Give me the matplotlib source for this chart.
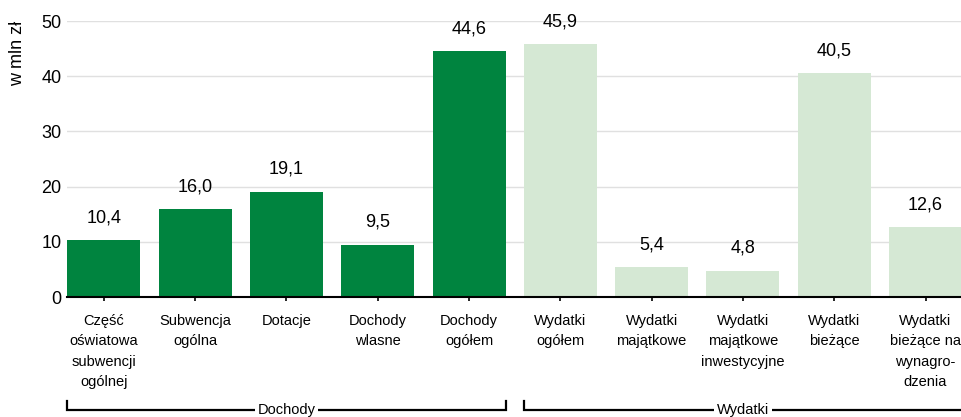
import matplotlib
matplotlib.use("Agg")
import matplotlib.pyplot as plt
import matplotlib.transforms as mtransforms

plt.rcParams['font.family'] = ['Liberation Sans', 'DejaVu Sans']

categories = ["Część\noświatowa\nsubwencji\nogólnej", "Subwencja\nogólna", "Dotacje",
              "Dochody\nwlasne", "Dochody\nogółem", "Wydatki\nogółem", "Wydatki\nmajątkowe",
              "Wydatki\nmajątkowe\ninwestycyjne", "Wydatki\nbieżące",
              "Wydatki\nbieżące na\nwynagro-\ndzenia"]
values = [10.4, 16.0, 19.1, 9.5, 44.6, 45.9, 5.4, 4.8, 40.5, 12.6]
groups = ["Dochody"] * 5 + ["Wydatki"] * 5
group_names = ["Dochody", "Wydatki"]
yticks = [0, 10, 20, 30, 40, 50]

colors = {"Dochody": "#00843f", "Wydatki": "#d5e8d4"}

W, H = 961, 417
fig = plt.figure(figsize=(W / 100, H / 100), dpi=100)
left_px, right_px = 67.3, 961.0
ax = fig.add_axes([left_px / W, 1 - 297 / H, (right_px - left_px) / W, (297 - 21) / H])

x = list(range(len(values)))
ax.bar(x, values, width=0.8, color=[colors[g] for g in groups], zorder=2)
for xi, v in zip(x, values):
    ax.text(xi, v + 4.0, f"{v:.1f}".replace(".", ","), ha="center", va="center",
            fontsize=13, color="black")

ax.set_xlim(-0.4, -0.4 + (right_px - left_px) / 91.3)
ax.set_ylim(0, 50)
ax.set_yticks(yticks)
ax.set_yticklabels([str(t) for t in yticks], fontsize=13)
ax.yaxis.grid(True, color="#e0e0e0", linewidth=1, zorder=0)
ax.set_axisbelow(True)
ax.tick_params(axis="y", length=0, pad=4)
ax.set_xticks(x)
ax.set_xticklabels(categories, fontsize=10.5, linespacing=1.6, va="top")
ax.tick_params(axis="x", length=3, width=1.2, color="black", pad=9)
for s in ["top", "right", "left"]:
    ax.spines[s].set_visible(False)
ax.spines["bottom"].set_linewidth(1.5)

fig.text(18 / W, 1 - 21 / H, "w mln zł", rotation=90, ha="center", va="top", fontsize=13)

trans = mtransforms.blended_transform_factory(ax.transData, fig.transFigure)
y_line = 1 - 410 / H
y_top = 1 - 401 / H
for gname in group_names:
    idx = [i for i, g in enumerate(groups) if g == gname]
    x0, x1 = idx[0] - 0.4, idx[-1] + 0.4
    ax.plot([x0, x0, x1, x1], [y_top, y_line, y_line, y_top], color="black",
            linewidth=1.6, transform=trans, clip_on=False, solid_joinstyle="miter")
    ax.text((x0 + x1) / 2, y_line, gname, transform=trans, ha="center", va="center",
            fontsize=10.5, bbox=dict(facecolor="white", edgecolor="none", pad=2))

fig.savefig("out.png", dpi=100)
